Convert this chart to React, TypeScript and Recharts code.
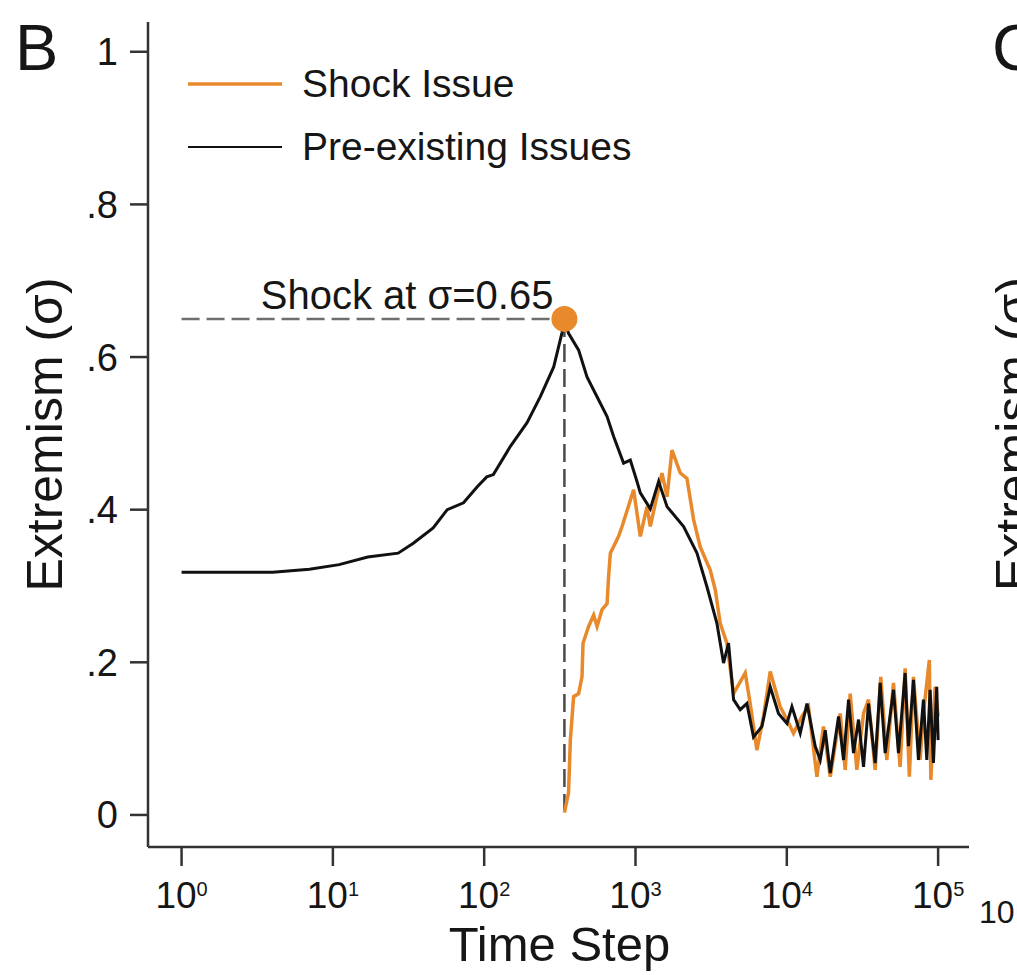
import React from 'react';
import { LineChart, Line, XAxis, YAxis, ReferenceLine, ReferenceDot, Legend } from 'recharts';

const FONT = '"Liberation Sans", Arial, Helvetica, sans-serif';
const ORANGE = '#E8892B';
const INK = '#161616';
const AXIS = '#333333';

// black series: pre-existing issues (time step, extremism)
const preExistingSteps = [
  1, 4, 7, 11, 17, 27, 34, 46, 57, 73, 90, 104, 115, 149, 192, 235, 288, 327, 339,
  361, 421, 478, 557, 649, 717, 834, 924, 1023, 1076, 1253, 1422, 1616, 2080, 2548,
  2966, 3453, 3819, 4121, 4449, 4920, 5448, 6025, 6850, 7770, 8810, 10020, 10810,
  12270, 13590, 15410, 16630, 17950, 19370, 21980, 23710, 25590, 27610, 29790, 32140,
  34670, 38370, 41400, 44670, 50700, 54700, 60530, 63680, 68710, 74130, 79980, 84180,
  88510, 93110, 97950, 100000,
];
const preExistingValues = [
  0.318, 0.318, 0.322, 0.328, 0.338, 0.343, 0.356, 0.376, 0.4, 0.409, 0.43, 0.443, 0.446,
  0.483, 0.514, 0.548, 0.587, 0.632, 0.648, 0.631, 0.609, 0.574, 0.548, 0.522, 0.496,
  0.461, 0.465, 0.437, 0.422, 0.401, 0.437, 0.404, 0.378, 0.343, 0.299, 0.251, 0.199,
  0.225, 0.151, 0.138, 0.146, 0.102, 0.116, 0.168, 0.133, 0.12, 0.142, 0.107, 0.146,
  0.09, 0.072, 0.111, 0.055, 0.129, 0.072, 0.151, 0.081, 0.125, 0.063, 0.146, 0.068,
  0.173, 0.081, 0.164, 0.081, 0.186, 0.09, 0.177, 0.072, 0.151, 0.072, 0.164, 0.068,
  0.168, 0.098,
];

// orange series: shock issue, starts at the shock
const shockIssueSteps = [
  339, 361, 371, 390, 421, 443, 450, 490, 529, 557, 601, 649, 664, 682, 773, 815, 972,
  1076, 1191, 1253, 1496, 1616, 1742, 1977, 2188, 2421, 2680, 3119, 3367, 3631, 4021,
  4449, 5311, 5728, 6342, 7015, 7770, 9036, 10020, 11070, 12580, 13910, 15810, 17470,
  19370, 22540, 24320, 26240, 29040, 32140, 34670, 38370, 41780, 45810, 50700, 56100,
  60530, 64570, 68710, 76030, 79980, 87500, 89540, 95500, 100000,
];
const shockIssueValues = [
  0.003, 0.029, 0.098, 0.155, 0.159, 0.181, 0.225, 0.247, 0.262, 0.247, 0.269, 0.277,
  0.312, 0.343, 0.365, 0.378, 0.426, 0.365, 0.404, 0.378, 0.448, 0.417, 0.478, 0.448,
  0.441, 0.387, 0.351, 0.321, 0.295, 0.251, 0.225, 0.159, 0.186, 0.146, 0.085, 0.129,
  0.188, 0.142, 0.125, 0.107, 0.129, 0.142, 0.05, 0.116, 0.05, 0.133, 0.059, 0.159,
  0.059, 0.133, 0.151, 0.059, 0.181, 0.072, 0.173, 0.063, 0.192, 0.05, 0.181, 0.072,
  0.133, 0.203, 0.046, 0.168, 0.129,
];

const seriesNames = ['Shock Issue', 'Pre-existing Issues'];
const xTicks = [1, 10, 100, 1000, 10000, 100000];
const xTickExponents = ['0', '1', '2', '3', '4', '5'];
const yTicks = [0, 0.2, 0.4, 0.6, 0.8, 1];
const yTickLabels = ['0', '.2', '.4', '.6', '.8', '1'];

const shockStep = 339;
const shockLevel = 0.65;

const preExistingData = preExistingSteps.map((step, i) => ({ step, value: preExistingValues[i] }));
const shockIssueData = shockIssueSteps.map((step, i) => ({ step, value: shockIssueValues[i] }));

const XTick = ({ x, y, payload }: any) => {
  const exp = xTickExponents[xTicks.indexOf(payload.value)];
  return (
    <text x={x} y={y + 42} textAnchor="middle" fontFamily={FONT} fontSize={37} fill={INK}>
      10
      <tspan dy={-12} fontSize={20}>{exp}</tspan>
    </text>
  );
};

const renderLegend = ({ payload }: any) => {
  const items = [...(payload || [])].sort(
    (a: any, b: any) => seriesNames.indexOf(a.value) - seriesNames.indexOf(b.value)
  );
  return (
    <div style={{ fontFamily: FONT, fontSize: 39, color: INK, whiteSpace: 'nowrap' }}>
      {items.map((entry: any) => (
        <div key={entry.value} style={{ display: 'flex', alignItems: 'center', height: 63 }}>
          <svg width={94} height={6} style={{ marginRight: 20, flex: 'none' }}>
            <line x1={0} y1={3} x2={94} y2={3} stroke={entry.color}
              strokeWidth={entry.color === ORANGE ? 3.5 : 2.2} />
          </svg>
          <span style={{ lineHeight: 1 }}>{entry.value}</span>
        </div>
      ))}
    </div>
  );
};

const shockLabel = ({ viewBox }: any) => (
  <text x={viewBox.x + viewBox.width - 11} y={viewBox.y - 10} textAnchor="end"
    fontFamily={FONT} fontSize={40} fill={INK}>
    Shock at σ=0.65
  </text>
);

export default function App() {
  return (
    <div style={{ position: 'absolute', left: 0, top: 0, width: 1017, height: 975, background: '#fff', overflow: 'hidden' }}>
      <LineChart width={1017} height={975} margin={{ top: 22, right: 48, bottom: 68, left: 88 }}>
        <XAxis
          dataKey="step"
          type="number"
          scale="log"
          domain={[0.6, 160000]}
          allowDataOverflow
          ticks={xTicks}
          interval={0}
          height={60}
          tickSize={19}
          tickMargin={0}
          tick={<XTick />}
          axisLine={{ stroke: AXIS, strokeWidth: 2.5 }}
          tickLine={{ stroke: AXIS, strokeWidth: 2.5 }}
          label={{
            content: ({ viewBox }: any) => (
              <text x={viewBox.x + viewBox.width / 2 + 1} y={961} textAnchor="middle"
                fontFamily={FONT} fontSize={49} fill={INK}>Time Step</text>
            ),
          }}
        />
        <YAxis
          type="number"
          domain={[-0.042, 1.039]}
          allowDataOverflow
          ticks={yTicks}
          interval={0}
          width={60}
          tickSize={18}
          tickMargin={12}
          tickFormatter={(v: number) => yTickLabels[yTicks.indexOf(v)]}
          tick={{ fontFamily: FONT, fontSize: 38, fill: INK }}
          axisLine={{ stroke: AXIS, strokeWidth: 2.5 }}
          tickLine={{ stroke: AXIS, strokeWidth: 2.5 }}
          label={{
            content: ({ viewBox }: any) => {
              const cy = viewBox.y + viewBox.height / 2;
              return (
                <text x={62} y={cy} transform={`rotate(-90, 62, ${cy})`} textAnchor="middle"
                  fontFamily={FONT} fontSize={50} fill={INK}>Extremism (σ)</text>
              );
            },
          }}
        />
        <Legend
          layout="vertical"
          align="center"
          verticalAlign="middle"
          content={renderLegend}
          wrapperStyle={{ top: 52, left: 188, width: 520, height: 130 }}
        />
        <ReferenceDot x={shockStep} y={shockLevel} r={13} fill={ORANGE} stroke="none" />
        <ReferenceLine
          segment={[{ x: 1, y: shockLevel }, { x: shockStep, y: shockLevel }]}
          stroke="#6e6e6e"
          strokeWidth={2.5}
          strokeDasharray="18 7"
          label={shockLabel}
        />
        <ReferenceLine
          segment={[{ x: shockStep, y: shockLevel }, { x: shockStep, y: 0 }]}
          stroke="#4a4a4a"
          strokeWidth={2.5}
          strokeDasharray="18 7"
        />
        <Line
          data={shockIssueData}
          dataKey="value"
          name="Shock Issue"
          type="linear"
          stroke={ORANGE}
          strokeWidth={3.5}
          dot={false}
          activeDot={false}
          isAnimationActive={false}
        />
        <Line
          data={preExistingData}
          dataKey="value"
          name="Pre-existing Issues"
          type="linear"
          stroke="#111111"
          strokeWidth={3}
          dot={false}
          activeDot={false}
          isAnimationActive={false}
        />
        <text x={15} y={70} fontFamily={FONT} fontSize={65} fill={INK}>B</text>
        <text x={992} y={70} fontFamily={FONT} fontSize={65} fill={INK}>C</text>
        <text x={979} y={923} fontFamily={FONT} fontSize={32} fill={INK}>10</text>
        <text x={1031} y={434} transform="rotate(-90, 1031, 434)" textAnchor="middle"
          fontFamily={FONT} fontSize={50} fill={INK}>Extremism (σ)</text>
      </LineChart>
    </div>
  );
}
